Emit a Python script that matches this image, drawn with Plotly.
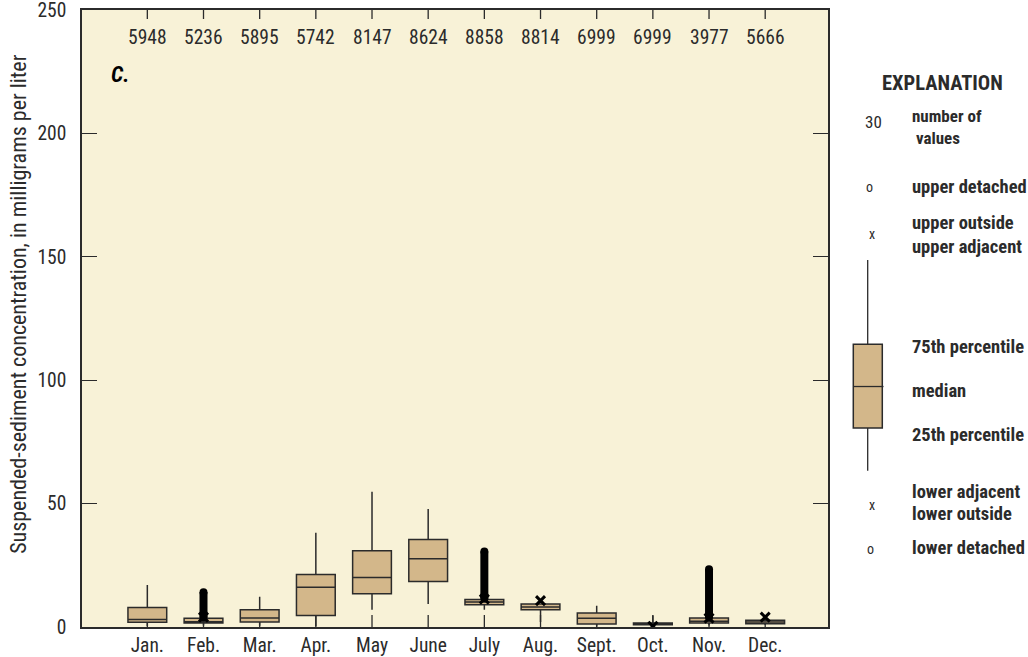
import plotly.graph_objects as go

# Monthly suspended-sediment concentration summaries (mg/L)
months = ["Jan.", "Feb.", "Mar.", "Apr.", "May", "June",
          "July", "Aug.", "Sept.", "Oct.", "Nov.", "Dec."]
counts = [5948, 5236, 5895, 5742, 8147, 8624, 8858, 8814, 6999, 6999, 3977, 5666]
lower_adj = [0.4, 0.6, 0.5, 0.3, 7.0, 9.3, 7.0, 2.0, 0.2, 0.5, 0.6, 0.8]
q25 = [1.9, 1.6, 2.0, 4.7, 13.5, 18.4, 9.0, 7.0, 1.2, 0.9, 1.6, 1.3]
median = [3.0, 2.1, 3.6, 16.1, 20.1, 27.7, 10.1, 8.1, 3.5, 1.2, 2.3, 2.0]
q75 = [7.9, 3.5, 7.0, 21.3, 30.9, 35.5, 11.1, 9.3, 5.7, 1.6, 3.6, 2.7]
upper_adj = [17.0, 4.5, 12.3, 38.2, 54.8, 47.8, 12.0, 9.6, 8.6, 4.7, 4.4, 3.3]

# Months with dense runs of detached values: lowest and highest detached value
detached_months = ["Feb.", "July", "Nov."]
detached_low = [3.9, 11.6, 4.0]
detached_high = [14.1, 30.6, 23.4]

# Outside values shown with an x
outside_months = ["Feb.", "July", "Aug.", "Oct.", "Nov.", "Dec."]
outside_vals = [4.0, 11.3, 10.7, 0.3, 3.6, 4.0]

y_ticks = [0, 50, 100, 150, 200, 250]

FONT = "Liberation Sans Narrow, Arial Narrow, Roboto Condensed, Liberation Sans, sans-serif"
BG = "#F8F2D7"
TAN = "#D3B78A"
INK = "#2b2b2b"
TXT = 19.5

xpos = {m: i + 1 for i, m in enumerate(months)}

fig = go.Figure()

fig.add_trace(go.Box(
    x=[xpos[m] for m in months],
    q1=q25, median=median, q3=q75,
    lowerfence=lower_adj, upperfence=upper_adj,
    width=0.69, whiskerwidth=0,
    fillcolor=TAN, line=dict(color=INK, width=1.5),
    boxpoints=False, hoverinfo="skip", showlegend=False,
))

for m, lo, hi in zip(detached_months, detached_low, detached_high):
    fig.add_trace(go.Scatter(
        x=[xpos[m], xpos[m]], y=[lo, hi], mode="lines+markers",
        line=dict(color="black", width=8),
        marker=dict(color="black", size=8),
        hoverinfo="skip", showlegend=False,
    ))

fig.add_trace(go.Scatter(
    x=[xpos[m] for m in outside_months], y=outside_vals, mode="markers",
    marker=dict(symbol="x-thin", size=9, line=dict(color="black", width=3)),
    hoverinfo="skip", showlegend=False,
))

XR = [-0.163, 13.118]
fig.update_layout(
    width=1028, height=657,
    margin=dict(l=82, r=200, t=10, b=30),
    paper_bgcolor="white", plot_bgcolor=BG,
    font=dict(family=FONT, color=INK, size=TXT),
    xaxis=dict(range=XR, tickmode="array", tickvals=list(range(1, 13)), ticktext=months,
               ticks="", showline=True, linecolor=INK, linewidth=1.5, mirror=True,
               showgrid=False, zeroline=False, layer="above traces",
               automargin=False, ticklabelstandoff=0, tickfont=dict(size=TXT)),
    yaxis=dict(range=[0, 250], tickmode="array", tickvals=y_ticks,
               ticks="inside", ticklen=15,
               tickcolor=INK, tickwidth=1.3, showline=True, linecolor=INK,
               linewidth=1.5, mirror="ticks", showgrid=False, zeroline=False,
               automargin=False, ticklabelstandoff=10, ticklabeloverflow="allow",
               tickfont=dict(size=TXT)),
)

PLOT_H = 617.3  # plot-area height in pixels, for tick lengths in paper units

ann = []
shapes = []
for m, c in zip(months, counts):
    ann.append(dict(x=xpos[m], y=0.956, xref="x", yref="paper", text=str(c),
                    showarrow=False, font=dict(size=TXT), xanchor="center",
                    yanchor="middle"))
    # month tick marks: short inward ticks on the bottom and top frame
    shapes.append(dict(type="line", xref="x", yref="paper", x0=xpos[m], x1=xpos[m],
                       y0=0, y1=12 / PLOT_H, layer="between",
                       line=dict(color=INK, width=1.3)))
    shapes.append(dict(type="line", xref="x", yref="paper", x0=xpos[m], x1=xpos[m],
                       y0=1, y1=1 - 9 / PLOT_H, layer="above",
                       line=dict(color=INK, width=1.3)))


def px_x(px):
    return (px - 82) / 746


def px_y(py):
    return (627.3 - py) / PLOT_H


ann.append(dict(x=px_x(120), y=px_y(75), xref="paper", yref="paper",
                text="<b><i>C.</i></b>", showarrow=False,
                font=dict(size=22, color="black"), xanchor="center", yanchor="middle"))
ann.append(dict(x=px_x(19), y=px_y(305), xref="paper", yref="paper", textangle=-90,
                text="Suspended-sediment concentration, in milligrams per liter",
                showarrow=False, font=dict(size=22, color=INK),
                xanchor="center", yanchor="middle"))


def label(px, py, text, bold=True, anchor="left", size=18.5):
    ann.append(dict(x=px_x(px), y=px_y(py), xref="paper", yref="paper",
                    text=f"<b>{text}</b>" if bold else text, showarrow=False,
                    xanchor=anchor, yanchor="middle", align="left",
                    font=dict(size=size, color=INK)))


label(942.5, 83, "EXPLANATION", anchor="center", size=20.5)
label(873.3, 121.7, "30", bold=False, anchor="center", size=17)
label(910, 127, "number of<br> values", size=17)
label(869.5, 187.5, "o", bold=False, anchor="center", size=14)
label(910, 186.7, "upper detached")
label(871.7, 234.3, "x", bold=False, anchor="center", size=14)
label(910, 223.3, "upper outside")
label(910, 246.7, "upper adjacent")
label(910, 346.7, "75th percentile")
label(910, 390.7, "median")
label(910, 435.7, "25th percentile")
label(871.7, 505.7, "x", bold=False, anchor="center", size=14)
label(910, 492.7, "lower adjacent")
label(910, 514, "lower outside")
label(870, 549.3, "o", bold=False, anchor="center", size=14)
label(910, 548.3, "lower detached")

# explanation box-plot symbol
shapes += [
    dict(type="line", xref="paper", yref="paper", x0=px_x(867.7), x1=px_x(867.7),
         y0=px_y(260), y1=px_y(344.3), line=dict(color=INK, width=1.3)),
    dict(type="rect", xref="paper", yref="paper", x0=px_x(853.3), x1=px_x(882.3),
         y0=px_y(344.3), y1=px_y(428.3), fillcolor=TAN, line=dict(color=INK, width=1.5)),
    dict(type="line", xref="paper", yref="paper", x0=px_x(853.3), x1=px_x(883.5),
         y0=px_y(386.7), y1=px_y(386.7), line=dict(color=INK, width=1.3)),
    dict(type="line", xref="paper", yref="paper", x0=px_x(867.7), x1=px_x(867.7),
         y0=px_y(428.3), y1=px_y(471), line=dict(color=INK, width=1.3)),
]

fig.update_layout(annotations=ann, shapes=shapes)

fig.write_html("out.html")
